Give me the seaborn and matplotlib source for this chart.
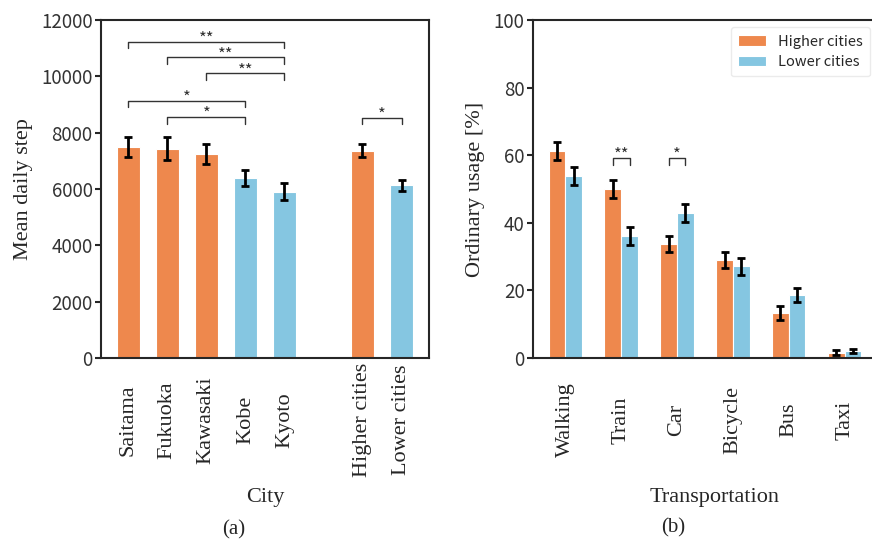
import pandas as pd
import matplotlib.pyplot as plt
import seaborn as sns

# data
cities = ["Saitama", "Fukuoka", "Kawasaki", "Kobe", "Kyoto", "Higher cities", "Lower cities"]
city_group = ["high", "high", "high", "low", "low", "high", "low"]
mean_steps = [7480, 7430, 7240, 6390, 5905, 7360, 6130]
steps_err = [350, 410, 360, 270, 310, 225, 200]

modes = ["Walking", "Train", "Car", "Bicycle", "Bus", "Taxi"]
usage_high = [61.3, 50.1, 33.8, 29.1, 13.3, 1.6]
usage_low = [53.8, 36.1, 42.9, 27.1, 18.7, 2.1]
err_high = [2.7, 2.7, 2.4, 2.4, 2.0, 0.8]
err_low = [2.7, 2.6, 2.6, 2.4, 2.1, 0.7]

# significance brackets: (left, right, height, label)
sig_steps = [("Saitama", "Kyoto", 11230, "**"), ("Fukuoka", "Kyoto", 10670, "**"),
             ("Kawasaki", "Kyoto", 10105, "**"), ("Saitama", "Kobe", 9135, "*"),
             ("Fukuoka", "Kobe", 8545, "*"), ("Higher cities", "Lower cities", 8530, "*")]
sig_modes = [("Train", 59.1, "**"), ("Car", 59.1, "*")]

ORANGE = "#EE884D"
BLUE = "#85C6E1"
SANS = ["Noto Sans CJK JP", "DejaVu Sans"]
SERIF = "Liberation Serif"

sns.set_style("ticks")
plt.rcParams["font.family"] = SANS
plt.rcParams["axes.linewidth"] = 1.5

df_steps = pd.DataFrame({"city": cities, "steps": mean_steps, "group": city_group})
df_usage = pd.DataFrame({
    "mode": modes * 2,
    "usage": usage_high + usage_low,
    "group": ["Higher cities"] * len(modes) + ["Lower cities"] * len(modes),
})

fig = plt.figure(figsize=(8.72, 5.4), dpi=100)
ax1 = fig.add_axes([0.1158, 0.337, 0.376, 0.626])
ax2 = fig.add_axes([0.6112, 0.337, 0.3945, 0.626])

# (a) mean daily step
order = cities[:5] + [""] + cities[5:]
pal = {c: (ORANGE if g == "high" else BLUE) for c, g in zip(cities, city_group)}
sns.barplot(data=df_steps, x="city", y="steps", hue="city", hue_order=cities, order=order,
            palette=pal, saturation=1, dodge=False, width=0.6, errorbar=None, legend=False,
            edgecolor="white", linewidth=0.8, ax=ax1)
for cont, err in zip(ax1.containers, steps_err):
    bar = cont[0]
    xc = bar.get_x() + bar.get_width() / 2
    ax1.errorbar(xc, bar.get_height(), yerr=err, fmt="none", ecolor="black",
                 elinewidth=2, capsize=3, capthick=2)
xpos = {c: order.index(c) for c in cities}
for a, b, h, lab in sig_steps:
    x0, x1 = xpos[a], xpos[b]
    ax1.plot([x0, x0, x1, x1], [h - 230, h, h, h - 230], color="#333333", lw=1)
    ax1.text((x0 + x1) / 2, h - 210, lab, ha="center", va="bottom", fontsize=12, color="#333333")

ax1.set_ylim(0, 12000)
ax1.set_xlim(-0.7, 7.7)
ax1.set_yticks(range(0, 12001, 2000))
ax1.set_xticks([i for i, c in enumerate(order) if c])
ax1.set_xticklabels([c for c in order if c], rotation=90, fontsize=16, family=SERIF, va="center")
ax1.set_xlabel("City", fontsize=16, family=SERIF)
ax1.set_ylabel("Mean daily step", fontsize=16, family=SERIF)
ax1.xaxis.set_label_coords(0.5, -0.385)
ax1.yaxis.set_label_coords(-0.207, 0.5)

# (b) ordinary usage
sns.barplot(data=df_usage, x="mode", y="usage", hue="group", order=modes,
            palette=[ORANGE, BLUE], saturation=1, width=0.6, errorbar=None,
            edgecolor="white", linewidth=0.8, ax=ax2)
for cont, errs in zip(ax2.containers, [err_high, err_low]):
    xs = [b.get_x() + b.get_width() / 2 for b in cont]
    ys = [b.get_height() for b in cont]
    ax2.errorbar(xs, ys, yerr=errs, fmt="none", ecolor="black",
                 elinewidth=2, capsize=3, capthick=2)
for m, h, lab in sig_modes:
    i = modes.index(m)
    x0 = ax2.containers[0][i].get_x() + ax2.containers[0][i].get_width() / 2
    x1 = ax2.containers[1][i].get_x() + ax2.containers[1][i].get_width() / 2
    ax2.plot([x0, x0, x1, x1], [h - 1.9, h, h, h - 1.9], color="#333333", lw=1)
    ax2.text((x0 + x1) / 2, h - 1.75, lab, ha="center", va="bottom", fontsize=12, color="#333333")

ax2.set_ylim(0, 100)
ax2.set_xlim(-0.58, 5.58)
ax2.set_yticks(range(0, 101, 20))
ax2.set_xticks(range(len(modes)))
ax2.set_xticklabels(modes, rotation=90, fontsize=16, family=SERIF, va="center")
ax2.set_xlabel("Transportation", fontsize=16, family=SERIF)
ax2.set_ylabel("Ordinary usage [%]", fontsize=16, family=SERIF)
ax2.xaxis.set_label_coords(0.529, -0.385)
ax2.yaxis.set_label_coords(-0.14, 0.5)
leg = ax2.legend(loc="upper right", fontsize=10.5, frameon=True, handlelength=1.9,
                 labelspacing=0.45, borderpad=0.5)
leg.get_frame().set_edgecolor("#e6e6e6")

for ax in (ax1, ax2):
    ax.tick_params(axis="y", labelsize=13.5, labelcolor="#333333", length=4.5, width=1.5, pad=1.5)
    ax.tick_params(axis="x", length=0, pad=44.5)
    for s in ax.spines.values():
        s.set_linewidth(1.5)

fig.text(234 / 872, 1 - 530 / 540, "(a)", ha="center", va="center", fontsize=15, family=SERIF)
fig.text(673 / 872, 1 - 528 / 540, "(b)", ha="center", va="center", fontsize=15, family=SERIF)

fig.savefig("out.png", dpi=100)
